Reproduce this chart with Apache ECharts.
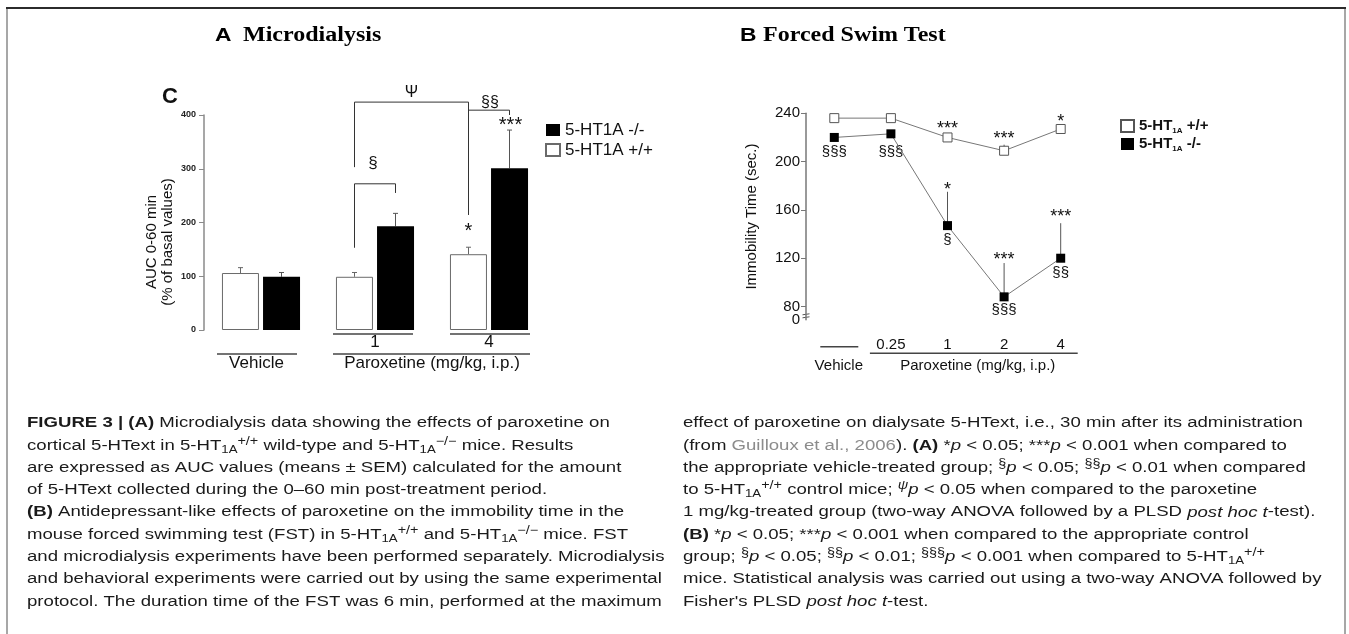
<!DOCTYPE html>
<html>
<head>
<meta charset="utf-8">
<script src="https://cdn.jsdelivr.net/npm/echarts@6/dist/echarts.min.js"></script>
<style>
  html, body { margin: 0; padding: 0; background: #fff; }
  #main { width: 1349px; height: 634px; }
</style>
</head>
<body>
<div id="main"></div>
<script>
// panel A - microdialysis, AUC 0-60 min (% of basal values)
var groups = ['Vehicle', '1', '4']
var aucWT = [106, 99, 141]
var aucWTErr = [10, 8, 13]
var aucKO = [99, 193, 301]
var aucKOErr = [8, 24, 71]

// panel B - forced swim test, immobility time (sec.)
var doses = ['Vehicle', '0.25', '1', '2', '4']
var fstWT = [236, 236, 220, 209, 227]
var fstWTErr = [2, 3, 2, 5, 2]
var fstKO = [220, 223, 147, 88, 120]
var fstKOErr = [3, 3, 28, 28, 29]
var fstTicks = [69, 80, 120, 160, 200, 240]
var fstTickLabels = ['0', '80', '120', '160', '200', '240']

// significance marks, B (text per dose, height in sec.)
var wtStars = ['', '', '***', '***', '*']
var wtStarAt = [0, 0, 230, 222, 236]
var koStars = ['', '', '*', '***', '***']
var koStarAt = [0, 0, 180, 122, 157]
var koSect = ['§§§', '§§§', '§', '§§§', '§§']
var koSectAt = [208, 208, 135, 77, 108]

// brackets, A (heights in % of basal)
var sectBracket = [153, 272, 255]  // WT 1 -> KO 1
var psiBracket = [303, 424, 214]   // WT 1 -> WT 4
var sect2Bracket = [409, 400]      // psi leg -> KO 4

var captionLeft = [
  '{b|FIGURE 3 | (A)} Microdialysis data showing the effects of paroxetine on',
  'cortical 5-HText in 5-HT{sub|1A}{sup|+/+} wild-type and 5-HT{sub|1A}{sup|−/−} mice. Results',
  'are expressed as AUC values (means ± SEM) calculated for the amount',
  'of 5-HText collected during the 0–60 min post-treatment period.',
  '{b|(B)} Antidepressant-like effects of paroxetine on the immobility time in the',
  'mouse forced swimming test (FST) in 5-HT{sub|1A}{sup|+/+} and 5-HT{sub|1A}{sup|−/−} mice. FST',
  'and microdialysis experiments have been performed separately. Microdialysis',
  'and behavioral experiments were carried out by using the same experimental',
  'protocol. The duration time of the FST was 6 min, performed at the maximum'
]
var captionRight = [
  'effect of paroxetine on dialysate 5-HText, i.e., 30 min after its administration',
  '(from {g|Guilloux et al., 2006}). {b|(A)} *{i|p} < 0.05; ***{i|p} < 0.001 when compared to',
  'the appropriate vehicle-treated group; {sup|§}{i|p} < 0.05; {sup|§§}{i|p} < 0.01 when compared',
  'to 5-HT{sub|1A}{sup|+/+} control mice; {supi|ψ}{i|p} < 0.05 when compared to the paroxetine',
  '1 mg/kg-treated group (two-way ANOVA followed by a PLSD {i|post hoc t}-test).',
  '{b|(B)} *{i|p} < 0.05; ***{i|p} < 0.001 when compared to the appropriate control',
  'group; {sup|§}{i|p} < 0.05; {sup|§§}{i|p} < 0.01; {sup|§§§}{i|p} < 0.001 when compared to 5-HT{sub|1A}{sup|+/+}',
  'mice. Statistical analysis was carried out using a two-way ANOVA followed by',
  'Fisher\'s PLSD {i|post hoc t}-test.'
]

var sans = '"Liberation Sans", Arial, sans-serif'
var serif = '"Liberation Serif", "Times New Roman", serif'
var ink = '#111'
var axisGrey = '#8a8a8a'
var half = 20.5 // half distance between the two bars of a group

var chart = echarts.init(document.getElementById('main'))

function errSeries(g, vals, errs, shift, cap, color) {
  return {
    type: 'custom',
    xAxisIndex: g,
    yAxisIndex: g,
    silent: true,
    z: 1,
    data: vals.map(function (v, i) { return [i, v, v + errs[i]] }),
    renderItem: function (params, api) {
      var lo = api.coord([api.value(0), api.value(1)])
      var hi = api.coord([api.value(0), api.value(2)])
      var x = lo[0] + shift
      var kids = [{ type: 'line', shape: { x1: x, y1: lo[1], x2: x, y2: hi[1] }, style: { stroke: color, lineWidth: 1 } }]
      if (cap) {
        kids.push({ type: 'line', shape: { x1: x - cap / 2, y1: hi[1], x2: x + cap / 2, y2: hi[1] }, style: { stroke: color, lineWidth: 1 } })
      }
      return { type: 'group', children: kids }
    }
  }
}

var option = {
  animation: false,
  grid: [
    { left: 204, top: 115, width: 342, height: 215 },
    { left: 806, top: 113.3, width: 283, height: 206.5 }
  ],
  xAxis: [
    {
      type: 'category', gridIndex: 0, data: groups,
      axisLine: { show: false }, axisTick: { show: false },
      axisLabel: {
        interval: 0, margin: 4, fontSize: 17, fontFamily: sans, color: ink,
        formatter: function (v) { return v === 'Vehicle' ? '' : v }
      }
    },
    {
      type: 'category', gridIndex: 1, data: doses,
      axisLine: { show: false }, axisTick: { show: false },
      axisLabel: {
        interval: 0, margin: 18, fontSize: 15, fontFamily: sans, color: ink,
        formatter: function (v) { return v === 'Vehicle' ? '' : v }
      }
    }
  ],
  yAxis: [
    {
      type: 'value', gridIndex: 0, min: 0, max: 400, interval: 100,
      axisLine: { show: true, lineStyle: { color: axisGrey, width: 1.5 } },
      axisTick: { show: true, length: 5, lineStyle: { color: axisGrey } },
      axisLabel: { fontSize: 9, fontWeight: 'bold', fontFamily: sans, color: '#222', margin: 8 },
      splitLine: { show: false }
    },
    {
      type: 'value', gridIndex: 1, min: fstTicks[0], max: 240,
      name: 'Immobility Time (sec.)', nameLocation: 'middle', nameRotate: 90, nameGap: 47,
      nameTextStyle: { fontSize: 15, fontFamily: sans, color: ink },
      axisLine: { show: true, lineStyle: { color: '#777', width: 1.5 } },
      axisTick: { show: true, length: 5, customValues: fstTicks.slice(1), lineStyle: { color: '#777' } },
      axisLabel: {
        // the "0" below the axis break is added as text further down
        customValues: fstTicks.slice(1), showMaxLabel: true,
        fontSize: 15, fontFamily: sans, color: ink, margin: 6,
        formatter: function (v) { return fstTickLabels[fstTicks.indexOf(v)] }
      },
      splitLine: { show: false }
    }
  ],
  legend: [
    {
      data: ['5-HT1A -/-', '5-HT1A +/+'],
      orient: 'vertical', left: 540, top: 115.5,
      icon: 'rect', itemWidth: 14, itemHeight: 12, itemGap: 1,
      selectedMode: false,
      textStyle: { fontSize: 17, fontFamily: sans, color: ink, lineHeight: 19 }
    },
    {
      data: ['FST +/+', 'FST -/-'],
      orient: 'vertical', left: 1115, top: 112.5,
      icon: 'rect', itemWidth: 13, itemHeight: 12, itemGap: 1,
      selectedMode: false,
      formatter: function (n) { return '5-HT{s|1A} ' + n.split(' ')[1] },
      textStyle: {
        fontSize: 15, fontWeight: 'bold', fontFamily: sans, color: ink, lineHeight: 17,
        rich: { s: { fontSize: 8, fontWeight: 'bold', fontFamily: sans, color: ink, verticalAlign: 'bottom', lineHeight: 5 } }
      }
    }
  ],
  series: [
    {
      name: '5-HT1A +/+', type: 'bar', xAxisIndex: 0, yAxisIndex: 0, data: aucWT,
      barWidth: 37, barGap: '11%',
      itemStyle: { color: '#fff', borderColor: '#6a6a6a', borderWidth: 1 }
    },
    {
      name: '5-HT1A -/-', type: 'bar', xAxisIndex: 0, yAxisIndex: 0, data: aucKO,
      barWidth: 37, barGap: '11%',
      itemStyle: { color: '#000' }
    },
    errSeries(0, aucWT, aucWTErr, -half, 5, '#666'),
    errSeries(0, aucKO, aucKOErr, half, 5, '#555'),
    errSeries(1, fstWT, fstWTErr, 0, 0, '#555'),
    errSeries(1, fstKO, fstKOErr, 0, 0, '#555'),
    {
      name: 'FST +/+', type: 'line', xAxisIndex: 1, yAxisIndex: 1, data: fstWT,
      symbol: 'rect', symbolSize: 9, z: 4,
      lineStyle: { color: '#777', width: 1 },
      itemStyle: { color: '#fff', borderColor: '#555', borderWidth: 1 }
    },
    {
      name: 'FST -/-', type: 'line', xAxisIndex: 1, yAxisIndex: 1, data: fstKO,
      symbol: 'rect', symbolSize: 9, z: 4,
      lineStyle: { color: '#777', width: 1 },
      itemStyle: { color: '#000' }
    }
  ]
}
chart.setOption(option)

// ---- annotations, placed through the axes
function at(g, cat, v) { return chart.convertToPixel({ gridIndex: g }, [cat, v]) }
function seg(x1, y1, x2, y2, color, w) {
  return { type: 'line', silent: true, shape: { x1: x1, y1: y1, x2: x2, y2: y2 }, style: { stroke: color || '#333', lineWidth: w || 1 } }
}
function poly(pts, color, w) {
  return { type: 'polyline', silent: true, shape: { points: pts }, style: { stroke: color || '#333', fill: null, lineWidth: w || 1 } }
}
function txt(x, y, s, size, extra) {
  var st = { text: s, x: 0, y: 0, fontSize: size, fontFamily: sans, fill: ink, align: 'center', verticalAlign: 'middle' }
  for (var k in extra || {}) st[k] = extra[k]
  return { type: 'text', silent: true, x: x, y: y, style: st }
}
function star(x, y, s, size) { return txt(x, y + size * 0.22, s, size) }

var gr = []

// frame + panel titles
gr.push(poly([[7, 634], [7, 8.5]], '#8a8a8a', 1.5))
gr.push(poly([[1345, 634], [1345, 8.5]], '#8a8a8a', 1.5))
gr.push(seg(6, 8, 1346, 8, '#2b2b2b', 2))
gr.push({ type: 'text', x: 215, y: 36, scaleX: 1.2, style: { text: 'A', fontSize: 19, fontWeight: 'bold', fontFamily: sans, fill: '#000', verticalAlign: 'middle' } })
gr.push({ type: 'text', x: 243, y: 36, scaleX: 1.2, style: { text: 'Microdialysis', fontSize: 20, fontWeight: 'bold', fontFamily: serif, fill: '#000', verticalAlign: 'middle' } })
gr.push({ type: 'text', x: 740, y: 36, scaleX: 1.2, style: { text: 'B', fontSize: 19, fontWeight: 'bold', fontFamily: sans, fill: '#000', verticalAlign: 'middle' } })
gr.push({ type: 'text', x: 763, y: 36, scaleX: 1.2, style: { text: 'Forced Swim Test', fontSize: 20, fontWeight: 'bold', fontFamily: serif, fill: '#000', verticalAlign: 'middle' } })

// panel A
var a0 = at(0, 0, 0), a1 = at(0, 1, 0), a2 = at(0, 2, 0)
function yA(v) { return at(0, 0, v)[1] }
gr.push(txt(170, 97, 'C', 22, { fontWeight: 'bold' }))
gr.push({
  type: 'text', x: 160, y: 242, rotation: Math.PI / 2, silent: true,
  style: { text: 'AUC 0-60 min\n(% of basal values)', fontSize: 15, fontFamily: sans, fill: ink, align: 'center', verticalAlign: 'middle', lineHeight: 16 }
})
var w1 = a1[0] - half, k1 = a1[0] + half, w2 = a2[0] - half, k2 = a2[0] + half
gr.push(poly([[w1, yA(sectBracket[0])], [w1, yA(sectBracket[1])], [k1, yA(sectBracket[1])], [k1, yA(sectBracket[2])]], '#333', 1))
gr.push(poly([[w1, yA(psiBracket[0])], [w1, yA(psiBracket[1])], [w2, yA(psiBracket[1])], [w2, yA(psiBracket[2])]], '#333', 1))
gr.push(poly([[w2, yA(sect2Bracket[0])], [k2, yA(sect2Bracket[0])], [k2, yA(sect2Bracket[1])]], '#333', 1))
gr.push(txt(a1[0] - 2, yA(310), '§', 17))
gr.push(txt((w1 + w2) / 2, yA(441), 'Ψ', 16))
gr.push(txt(a2[0] + 1, yA(424), '§§', 16))
gr.push(star(w2, yA(192), '*', 20))
gr.push(star(k2 + 1, yA(388), '***', 20))
var yb = a0[1]
gr.push(seg(a1[0] - 42, yb + 4, a1[0] + 38, yb + 4, '#444', 1.5))
gr.push(seg(a2[0] - 39, yb + 4, a2[0] + 41, yb + 4, '#444', 1.5))
gr.push(seg(a0[0] - 44, yb + 24, a0[0] + 36, yb + 24, '#444', 1.5))
gr.push(seg(a1[0] - 42, yb + 24, a2[0] + 41, yb + 24, '#444', 1.5))
gr.push(txt(a0[0] - 4.5, yb + 33, groups[0], 17))
gr.push(txt((a1[0] + a2[0]) / 2, yb + 33, 'Paroxetine (mg/kg, i.p.)', 17))

// panel B
function pB(i, v) { return at(1, i, v) }
for (var i = 0; i < doses.length; i++) {
  var x = pB(i, 0)[0]
  if (wtStars[i]) gr.push(star(x, pB(i, wtStarAt[i])[1], wtStars[i], 18))
  if (koStars[i]) gr.push(star(x, pB(i, koStarAt[i])[1], koStars[i], 18))
  if (koSect[i]) gr.push(txt(x, pB(i, koSectAt[i])[1], koSect[i], 15))
}
var b0 = pB(0, fstTicks[0]), b1 = pB(1, fstTicks[0]), b4 = pB(4, fstTicks[0])
var axisX = b0[0] - (b1[0] - b0[0]) / 2
gr.push(txt(axisX - 6, b0[1], fstTickLabels[0], 15, { align: 'right' }))
gr.push(seg(axisX - 3.5, b0[1] - 5, axisX + 3.5, b0[1] - 6, '#555', 1))
gr.push(seg(axisX - 3.5, b0[1] - 2, axisX + 3.5, b0[1] - 3, '#555', 1))
gr.push(seg(b0[0] - 14, b0[1] + 27, b0[0] + 24, b0[1] + 27, '#444', 1.5))
gr.push(seg(b1[0] - 21, b0[1] + 33.5, b4[0] + 17, b0[1] + 33.5, '#444', 1.5))
gr.push(txt(b0[0] + 4.5, b0[1] + 46, doses[0], 15))
gr.push(txt((b1[0] + b4[0]) / 2 + 2, b0[1] + 46, 'Paroxetine (mg/kg, i.p.)', 15))

// caption
function capStyle(extra) {
  var s = { fontFamily: sans, fontSize: 15.5, fill: '#1a1a1a', lineHeight: 20 }
  for (var k in extra) s[k] = extra[k]
  return s
}
var capRich = {
  b: capStyle({ fontWeight: 'bold' }),
  i: capStyle({ fontStyle: 'italic' }),
  g: capStyle({ fill: '#8c8c8c' }),
  sub: capStyle({ fontSize: 11, lineHeight: 10, verticalAlign: 'bottom' }),
  sup: capStyle({ fontSize: 12, lineHeight: 11, verticalAlign: 'top' }),
  supi: capStyle({ fontSize: 12, lineHeight: 11, verticalAlign: 'top', fontStyle: 'italic' })
}
function captionLines(lines, x0) {
  lines.forEach(function (s, j) {
    gr.push({
      type: 'text', silent: true, x: x0, y: 423 + j * 22.3, scaleX: 1.2,
      style: capStyle({ text: s, rich: capRich, verticalAlign: 'middle' })
    })
  })
}
captionLines(captionLeft, 27)
captionLines(captionRight, 683)

chart.setOption({ graphic: gr })
</script>
</body>
</html>
